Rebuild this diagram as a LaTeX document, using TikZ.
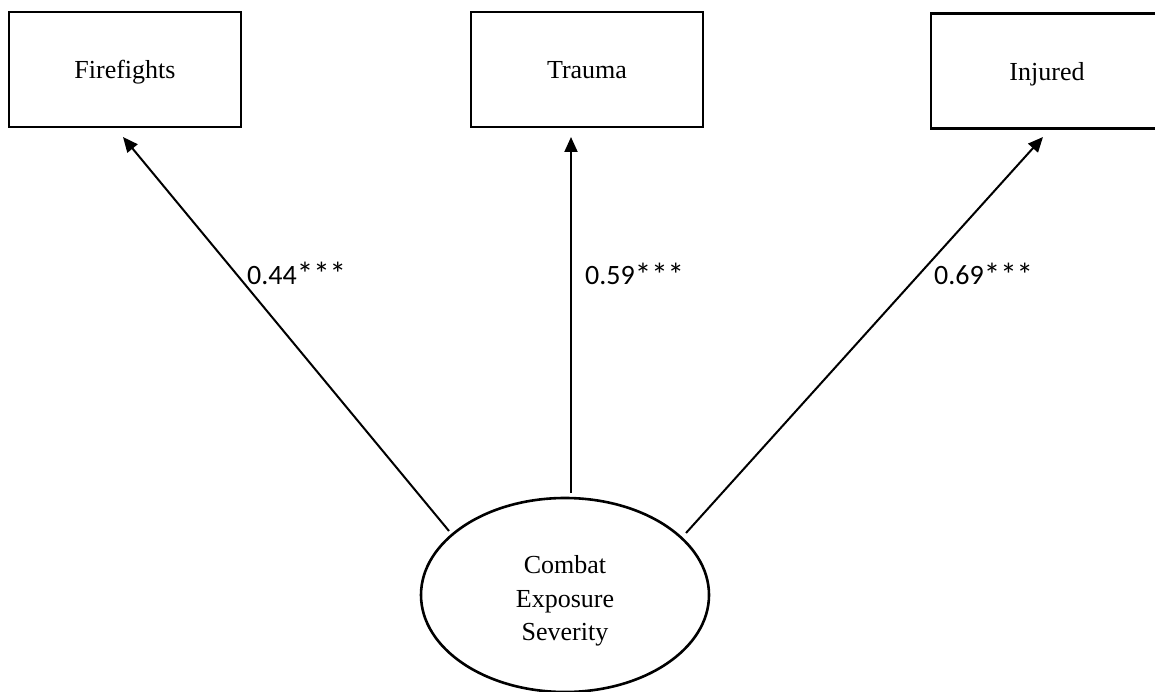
\documentclass[tikz,border=0pt]{standalone}
\usepackage{fontspec}
\setmainfont{Liberation Serif}
\newfontfamily\lblfont{Carlito}
\usetikzlibrary{shapes.geometric,arrows.meta}
\newcommand{\stars}{{\fontsize{33}{33}\selectfont\raisebox{-1.5pt}{***}}}
\begin{document}
\begin{tikzpicture}[x=1pt,y=-1pt,
  obs/.style={draw,line width=2.9pt,rectangle,minimum width=232pt,minimum height=115pt,inner sep=0pt,font=\fontsize{26}{30}\selectfont,text height=19pt,text depth=0pt},
  latent/.style={draw,line width=2.6pt,ellipse,minimum width=288pt,minimum height=194pt,inner sep=0pt},
  cestext/.style={align=center,inner sep=0pt,font=\fontsize{26}{33.5}\selectfont},
  loading/.style={line width=2pt,-{Triangle[length=15pt,width=13pt]}},
  coef/.style={font=\lblfont\fontsize{28}{32}\selectfont,anchor=base west,inner sep=0pt}]
\clip (0,0) rectangle (1155,692);
\fill[white] (0,0) rectangle (1155,692);
% observed variables
\node[obs] (fire) at (125,69.5) {Firefights};
\node[obs] (trauma) at (587,69.5) {Trauma};
\node[obs] (inj) at (1047,71) {Injured};
% latent variable
\node[latent] (ces) at (565,595) {};
\node[cestext] (cestxt) at (565,601) {Combat\\Exposure\\Severity};
% connector end points
\coordinate (s1) at (449,531);
\coordinate (t1) at (123,137);
\coordinate (s2) at (571,493);
\coordinate (t2) at (571,137);
\coordinate (s3) at (686,533);
\coordinate (t3) at (1043,137);
\draw[loading] (s1) -- (t1);
\draw[loading] (s2) -- (t2);
\draw[loading] (s3) -- (t3);
% coefficients
\node[coef] (c1) at (247,284) {0.44\stars};
\node[coef] (c2) at (585,285) {0.59\stars};
\node[coef] (c3) at (934,285) {0.69\stars};
\end{tikzpicture}
\end{document}
